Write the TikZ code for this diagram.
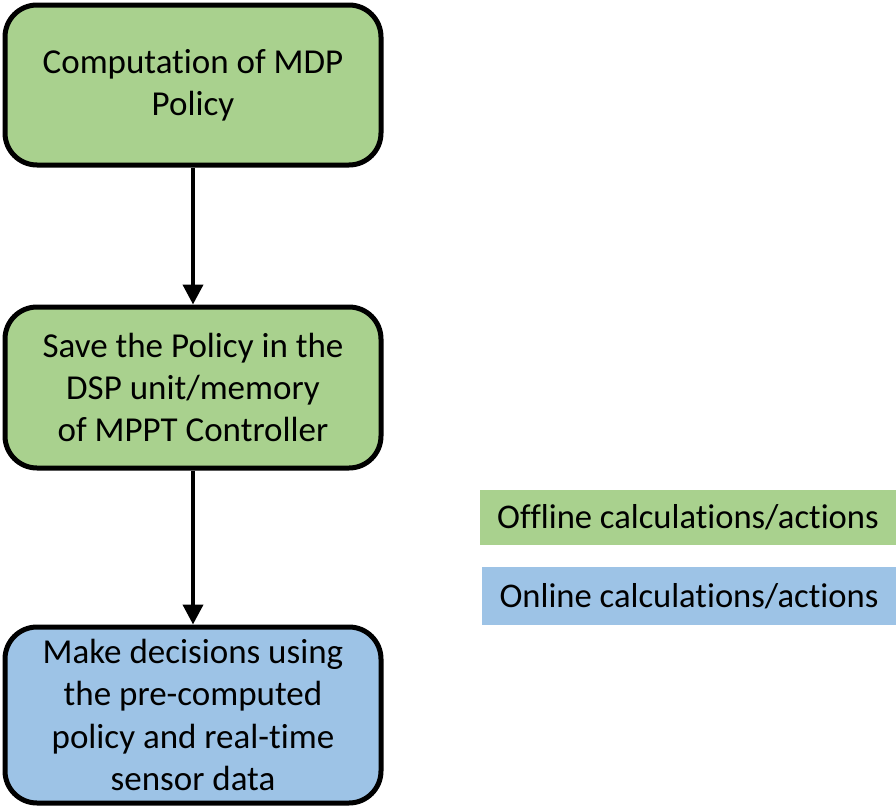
\documentclass[tikz,border=0pt]{standalone}
\usepackage{fontspec}
\setmainfont[Ligatures=NoCommon]{Carlito}
\usetikzlibrary{arrows.meta}
\definecolor{offgreen}{HTML}{A9D18E}
\definecolor{onblue}{HTML}{9DC3E6}
\begin{document}
\begin{tikzpicture}[x=0.5pt,y=-0.5pt,
  stepbox/.style={draw=black,line width=2.5pt,rounded corners=16pt,
    minimum width=188pt,align=center,inner sep=0pt,
    font=\fontsize{17.5}{21.2}\selectfont},
  legendbox/.style={draw=none,inner sep=0pt,align=center,
    font=\fontsize{17.3}{20}\selectfont},
  flow/.style={line width=2pt,-{Triangle[width=10pt,length=10pt]}}]
\useasboundingbox (0,0) rectangle (896,809);
\node[stepbox,fill=offgreen,minimum height=80pt] (a) at (193,85)
  {Computation of MDP\\Policy};
\node[stepbox,fill=offgreen,minimum height=80.5pt] (b) at (193,387.5)
  {Save the Policy in the\\DSP unit/memory\\of MPPT Controller};
\node[stepbox,fill=onblue,minimum height=88pt] (c) at (193,715)
  {Make decisions using\\the pre-computed\\policy and real-time\\sensor data};
\draw[flow] (a.south) -- (b.north);
\draw[flow] (b.south) -- (c.north);
\node[legendbox,fill=offgreen,minimum width=208pt,minimum height=27.5pt] (l1) at (688,517.5)
  {Offline calculations/actions};
\node[legendbox,fill=onblue,minimum width=207pt,minimum height=29pt] (l2) at (689,596)
  {Online calculations/actions};
\end{tikzpicture}
\end{document}
